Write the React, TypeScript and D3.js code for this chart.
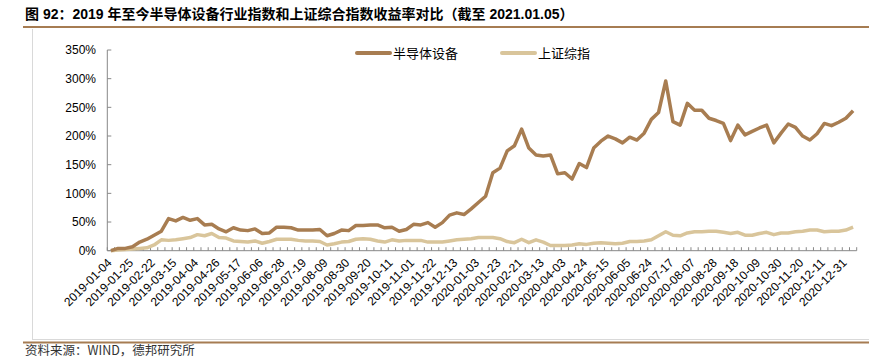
import React from "react";
import * as d3 from "d3";

const dates = [
  "2019-01-04","2019-01-11","2019-01-18","2019-01-25","2019-02-01","2019-02-15",
  "2019-02-22","2019-03-01","2019-03-08","2019-03-15","2019-03-22","2019-03-29",
  "2019-04-04","2019-04-12","2019-04-19","2019-04-26","2019-04-30","2019-05-10",
  "2019-05-17","2019-05-24","2019-05-31","2019-06-06","2019-06-14","2019-06-21",
  "2019-06-28","2019-07-05","2019-07-12","2019-07-19","2019-07-26","2019-08-02",
  "2019-08-09","2019-08-16","2019-08-23","2019-08-30","2019-09-06","2019-09-12",
  "2019-09-20","2019-09-27","2019-09-30","2019-10-11","2019-10-18","2019-10-25",
  "2019-11-01","2019-11-08","2019-11-15","2019-11-22","2019-11-29","2019-12-06",
  "2019-12-13","2019-12-20","2019-12-27","2020-01-03","2020-01-10","2020-01-17",
  "2020-01-23","2020-02-07","2020-02-14","2020-02-21","2020-02-28","2020-03-06",
  "2020-03-13","2020-03-20","2020-03-27","2020-04-03","2020-04-10","2020-04-17",
  "2020-04-24","2020-04-30","2020-05-08","2020-05-15","2020-05-22","2020-05-29",
  "2020-06-05","2020-06-12","2020-06-19","2020-06-24","2020-07-03","2020-07-10",
  "2020-07-17","2020-07-24","2020-07-31","2020-08-07","2020-08-14","2020-08-21",
  "2020-08-28","2020-09-04","2020-09-11","2020-09-18","2020-09-25","2020-09-30",
  "2020-10-09","2020-10-16","2020-10-23","2020-10-30","2020-11-06","2020-11-13",
  "2020-11-20","2020-11-27","2020-12-04","2020-12-11","2020-12-18","2020-12-25",
  "2020-12-31","2021-01-05"
];

const semiEquip = [
  0,4,4,7,15,20,27,34,56,52,58,53,56,45,46,38,33,40,36,35,
  38,30,31,41,41,40,36,36,36,37,26,30,36,35,44,44,45,45,40,41,
  34,37,46,45,49,41,49,62,66,63,73,84,95,136,144,174,183,212,179,167,
  165,167,134,136,125,152,145,179,191,200,195,188,198,193,205,229,241,296,225,219,
  257,245,245,231,227,222,192,219,202,208,214,219,188,205,221,215,200,193,204,222,
  218,224,231,244
];

const shComp = [
  0,1,2,3,4,5,10,19,18,19,21,23,28,26,30,23,22,17,16,15,
  17,13,16,20,20,20,18,17,17,16,10,12,15,16,20,21,20,17,15,19,
  17,18,18,18,15,15,15,17,19,20,21,23,23,23,21,16,14,20,14,19,
  15,9,9,9,10,12,11,13,14,13,12,13,16,16,17,19,26,33,27,26,
  31,33,33,34,34,32,30,32,27,27,30,32,28,31,31,33,34,36,36,33,
  34,34,36,41
];

const yTicks = [0, 50, 100, 150, 200, 250, 300, 350];
const seriesNames = ["半导体设备", "上证综指"];
const colors = ["#A87D51", "#D9C59B"];
const titleText = "图 92：2019 年至今半导体设备行业指数和上证综合指数收益率对比（截至 2021.01.05）";
const sourceText = "资料来源：WIND，德邦研究所";

export default function App() {
  const W = 892, H = 362;
  const x0 = 107.3, x1 = 856.7, yBottom = 250.7, yTop = 50;
  const x = d3.scaleBand<string>().domain(dates).range([x0, x1]).paddingInner(0).paddingOuter(0);
  const y = d3.scaleLinear().domain([0, 350]).range([yBottom, yTop]);
  const cx = (d: string) => (x(d) as number) + x.bandwidth() / 2;

  const line = d3.line<number>()
    .x((_, i) => cx(dates[i]))
    .y((v) => y(v));

  const sans = "'Liberation Sans', Arial, 'Noto Sans CJK SC', sans-serif";
  const cjk = "'Noto Sans CJK SC', sans-serif";

  const bandEdges = d3.range(dates.length + 1).map((i) => x0 + i * x.bandwidth());

  return (
    <svg width={W} height={H} style={{ position: "absolute", left: 0, top: 0, background: "#fff" }}>
      {/* title */}
      <text x={25} y={19} fontFamily={sans} fontWeight="bold" fontSize={14} fill="#000">
        {titleText}
      </text>
      <line x1={23} x2={869} y1={27} y2={27} stroke="#A67C52" strokeWidth={2} />
      {/* frame */}
      <line x1={32.5} x2={32.5} y1={29} y2={339} stroke="#D9D9D9" strokeWidth={1} />
      <line x1={32} x2={869} y1={339.5} y2={339.5} stroke="#D9D9D9" strokeWidth={1} />
      <line x1={23} x2={869} y1={342.5} y2={342.5} stroke="#A67C52" strokeWidth={2} />
      <text x={25} y={355} fontFamily={cjk} fontSize={12.5} fill="#333">
        {sourceText}
      </text>

      {/* y axis */}
      <line x1={x0} x2={x0} y1={yTop} y2={yBottom} stroke="#888" strokeWidth={1} />
      {yTicks.map((t) => (
        <g key={t}>
          <line x1={x0} x2={x0 + 4} y1={y(t)} y2={y(t)} stroke="#888" strokeWidth={1} />
          <text x={96} y={y(t)} dy="0.35em" textAnchor="end" fontFamily={sans} fontSize={12} fill="#000">
            {t}%
          </text>
        </g>
      ))}

      {/* x axis */}
      <line x1={x0} x2={x1} y1={yBottom} y2={yBottom} stroke="#888" strokeWidth={1} />
      {bandEdges.map((e, i) => (
        <line key={i} x1={e} x2={e} y1={yBottom} y2={yBottom - 3.5} stroke="#888" strokeWidth={1} />
      ))}
      {dates.map((d, i) =>
        i % 3 === 0 && i <= 102 ? (
          <text
            key={d}
            transform={`translate(${cx(d) + 1.5},${263.5}) rotate(-45)`}
            textAnchor="end"
            fontFamily={sans}
            fontSize={12}
            fill="#000"
          >
            {d}
          </text>
        ) : null
      )}

      {/* lines */}
      <path d={line(shComp) || ""} fill="none" stroke={colors[1]} strokeWidth={3.5} strokeLinejoin="round" />
      <path d={line(semiEquip) || ""} fill="none" stroke={colors[0]} strokeWidth={3.5} strokeLinejoin="round" />

      {/* legend */}
      <line x1={357} x2={390} y1={53} y2={53} stroke={colors[0]} strokeWidth={4} strokeLinecap="round" />
      <text x={393} y={53} dy="0.35em" fontFamily={cjk} fontSize={13} fill="#000">{seriesNames[0]}</text>
      <line x1={502} x2={535} y1={53} y2={53} stroke={colors[1]} strokeWidth={4} strokeLinecap="round" />
      <text x={538} y={53} dy="0.35em" fontFamily={cjk} fontSize={13} fill="#000">{seriesNames[1]}</text>
    </svg>
  );
}
